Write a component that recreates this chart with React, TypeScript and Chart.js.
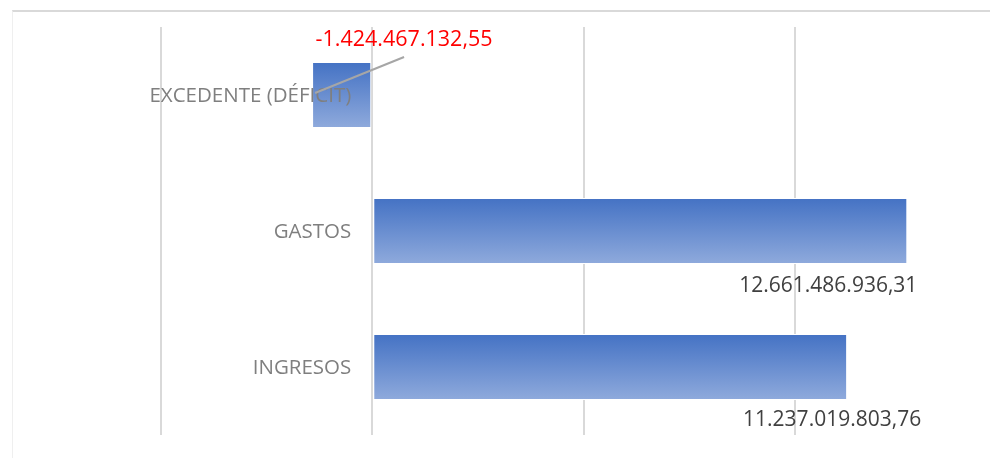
import React, { useEffect, useRef } from "react";
import { Chart, registerables } from "chart.js";

Chart.register(...registerables);

const categories = ["EXCEDENTE (DÉFICIT)", "GASTOS", "INGRESOS"];
const values = [-1424467132.55, 12661486936.31, 11237019803.76];
const valueLabels = ["-1.424.467.132,55", "12.661.486.936,31", "11.237.019.803,76"];
const gridTicks = [-5e9, 0, 5e9, 10e9];

// style: label offsets relative to bar end / bar centre (pixels)
const LABEL_OFFSETS: [number, number][] = [[92, -55], [-79, 55], [-15, 53]];
const BAR_PCT = 0.485;
const FONT = "'Open Sans', 'Liberation Sans', sans-serif";

const overlayPlugin = {
  id: "overlay",
  afterDatasetsDraw(chart: any) {
    const { ctx } = chart;
    const x = chart.scales.x;
    const y = chart.scales.y;
    const zero = x.getPixelForValue(0);
    ctx.save();
    // category labels
    ctx.font = `20.5px ${FONT}`;
    ctx.fillStyle = "#7f7f7f";
    ctx.textAlign = "right";
    ctx.textBaseline = "middle";
    categories.forEach((c, i) => {
      ctx.fillText(c, zero - 21, y.getPixelForValue(i) + 1);
    });
    // data labels
    ctx.textAlign = "center";
    values.forEach((v, i) => {
      const end = x.getPixelForValue(v);
      const cy = y.getPixelForValue(i);
      const [dx, dy] = LABEL_OFFSETS[i];
      const lx = end + dx;
      const ly = cy + dy;
      if (v < 0) {
        ctx.strokeStyle = "#a6a6a6";
        ctx.lineWidth = 2;
        ctx.beginPath();
        ctx.moveTo(end + 3, cy - 2);
        ctx.lineTo(lx, ly + 17);
        ctx.stroke();
        ctx.fillStyle = "#ff0000";
        ctx.font = `21.5px ${FONT}`;
      } else {
        ctx.fillStyle = "#404040";
        ctx.font = `21px ${FONT}`;
      }
      ctx.fillText(valueLabels[i], lx, ly);
    });
    ctx.restore();
  },
};

export default function App() {
  const ref = useRef<HTMLCanvasElement>(null);
  useEffect(() => {
    if (!ref.current) return;
    const chart = new Chart(ref.current, {
      type: "bar",
      data: {
        labels: categories,
        datasets: [
          {
            data: values,
            backgroundColor: (ctx: any) => {
              const ch = ctx.chart;
              const ys = ch.scales.y;
              if (!ys || !ch.chartArea || ctx.dataIndex === undefined) return "#4472C4";
              const c = ys.getPixelForValue(ctx.dataIndex);
              const half = (ys.height / categories.length) * BAR_PCT / 2;
              if (!isFinite(c) || !isFinite(half)) return "#4472C4";
              const g = ch.ctx.createLinearGradient(0, c - half, 0, c + half);
              g.addColorStop(0, "#4472C4");
              g.addColorStop(1, "#8FAADC");
              return g;
            },
            borderColor: "#ffffff",
            borderWidth: 1,
            borderSkipped: false,
            barPercentage: BAR_PCT,
            categoryPercentage: 1,
          },
        ],
      },
      options: {
        indexAxis: "y",
        animation: false,
        responsive: false,
        maintainAspectRatio: false,
        layout: { padding: { left: 161, right: 5, top: 27, bottom: 23 } },
        plugins: { legend: { display: false }, tooltip: { enabled: false } },
        scales: {
          x: {
            min: -5e9,
            max: 14.5e9,
            afterBuildTicks: (s: any) => {
              s.ticks = gridTicks.map((v) => ({ value: v }));
            },
            ticks: { display: false },
            grid: { color: "#d9d9d9", lineWidth: 2, drawTicks: false },
            border: { display: false },
          },
          y: { display: false },
        },
      },
      plugins: [overlayPlugin],
    });
    return () => chart.destroy();
  }, []);
  return (
    <div style={{ position: "fixed", left: 0, top: 0, width: 990, height: 458, background: "#fff" }}>
      <div
        style={{
          position: "absolute",
          left: 12,
          top: 10,
          width: 990,
          height: 460,
          borderTop: "2px solid #d9d9d9",
          borderLeft: "1px solid #efefef",
        }}
      />
      <canvas ref={ref} width={990} height={458} style={{ position: "absolute", left: 0, top: 0 }} />
    </div>
  );
}
